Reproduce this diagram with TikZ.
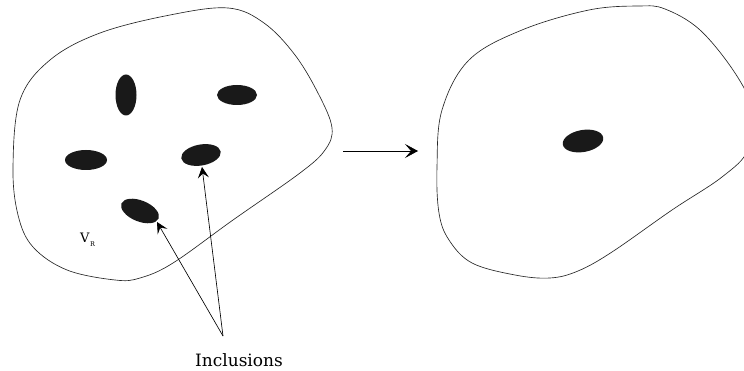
\documentclass[tikz,border=0pt]{standalone}
\usepackage{fontspec}
\newfontfamily\slab{DejaVu Serif}
\usetikzlibrary{shapes.geometric,arrows.meta}
\tikzset{
  blob/.style={line width=0.65pt, draw=black!85},
  incl/.style={ellipse, fill=black!90, draw=none, inner sep=0pt},
  ptr/.style={line width=0.65pt, -{Stealth[length=11pt,width=11pt,inset=4.5pt]}},
  maparrow/.style={line width=0.65pt, -{Stealth[length=13pt,width=14pt,inset=6pt]}},
  lbl/.style={inner sep=0pt}
}
\begin{document}
\begin{tikzpicture}[x=1pt,y=-1pt]
\useasboundingbox (0,0) rectangle (744,371);
\clip (0,0) rectangle (744,371);
% left region
\draw[blob] plot[smooth cycle, tension=0.6] coordinates {
 (13,167) (20,100) (50,60) (100,33) (170,15) (228,8) (264,23) (295,55)
 (319,95) (332,128) (325,150) (300,173) (233,220) (173,263) (140,278)
 (115,280) (67,270) (33,247) (18,215)};
% right region
\draw[blob] plot[smooth cycle, tension=0.6] coordinates {
 (437,167) (442,110) (469,60) (522,30) (589,10) (639,6) (665,9) (700,30)
 (735,73) (752,110) (748,150) (722,177) (672,210) (612,252) (578,271)
 (550,278) (515,275) (472,263) (449,240) (439,213)};
% inclusions
\node[incl, minimum width=21pt, minimum height=41pt] (i1) at (126,95) {};
\node[incl, minimum width=40pt, minimum height=20pt] (i2) at (237,95) {};
\node[incl, minimum width=42pt, minimum height=20pt] (i3) at (86,160) {};
\node[incl, minimum width=40pt, minimum height=21pt, rotate=10] (i4) at (201,155) {};
\node[incl, minimum width=40pt, minimum height=21pt, rotate=-22] (i5) at (140,211) {};
\node[incl, minimum width=41pt, minimum height=22pt, rotate=10] (i6) at (583,141) {};
% labels
\node[lbl, font=\slab\fontsize{17}{17}\selectfont, anchor=base] (inc) at (239,366) {Inclusions};
\node[lbl, font=\slab\fontsize{13}{13}\selectfont, anchor=base west] (vr) at (80,243) {V\hspace{0.5pt}\raisebox{-4pt}{\fontsize{6.5}{6.5}\selectfont R}};
% pointers
\coordinate (tip) at (223,336);
\coordinate (t4) at (202,167);
\coordinate (t5) at (157,222);
\draw[ptr] (tip) -- (t4);
\draw[ptr] (tip) -- (t5);
% map arrow
\coordinate (m1) at (343,151);
\coordinate (m2) at (418,151);
\draw[maparrow] (m1) -- (m2);
\end{tikzpicture}
\end{document}
